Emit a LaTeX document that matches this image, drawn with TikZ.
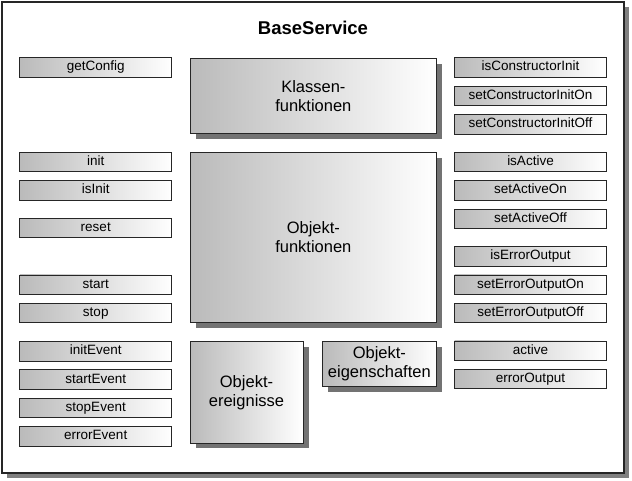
\documentclass[tikz,border=0pt]{standalone}
\usepackage{fontspec}
\setmainfont{Liberation Sans}
\usetikzlibrary{shadows}
\begin{document}
\begin{tikzpicture}[x=1pt,y=1pt,
  outerbox/.style={draw=black!85, line width=1.3pt, fill=white,
    general shadow={fill=black!50, shadow xshift=5pt, shadow yshift=-5pt}},
  sbox/.style={draw=black!85, line width=0.9pt, left color=black!27, right color=white,
    minimum width=152pt, minimum height=19.5pt, inner sep=0pt,
    text height=9.8pt, text depth=2.8pt,
    font=\fontsize{13.5}{15}\selectfont},
  bbox/.style={draw=black!85, line width=0.9pt, left color=black!27, right color=white,
    inner sep=0pt, align=center, font=\fontsize{16.5}{19}\selectfont,
    general shadow={fill=black!55, shadow xshift=5.5pt, shadow yshift=-5.5pt}},
  ttl/.style={font=\bfseries\fontsize{18.5}{22}\selectfont}
]
\useasboundingbox (0,0) rectangle (632,-481);
\node[outerbox, minimum width=622pt, minimum height=471pt, inner sep=0pt] (outer) at (313,-237.5) {};
\node[ttl] (title) at (313,-28) {BaseService};

% big boxes
\node[bbox, minimum width=246.7pt, minimum height=75pt] (klassen) at (313.35,-95.8) {Klassen-\\funktionen};
\node[bbox, minimum width=246.7pt, minimum height=170.4pt] (objfkt) at (313.35,-237.5) {Objekt-\\funktionen};
\node[bbox, minimum width=113pt, minimum height=101.3pt] (objev) at (246.5,-392.3) {Objekt-\\ereignisse};
\node[bbox, minimum width=113.3pt, minimum height=45pt] (objeig) at (379.35,-364.2) {Objekt-\\eigenschaften};

% left column
\node[sbox] (getConfig) at (95.75,-67.3) {getConfig};
\node[sbox] (init) at (95.75,-162) {init};
\node[sbox] (isInit) at (95.75,-190.5) {isInit};
\node[sbox] (reset) at (95.75,-228) {reset};
\node[sbox] (start) at (95.75,-284.7) {start};
\node[sbox] (stop) at (95.75,-313) {stop};
\node[sbox] (initEvent) at (95.75,-351.2) {initEvent};
\node[sbox] (startEvent) at (95.75,-379.5) {startEvent};
\node[sbox] (stopEvent) at (95.75,-407.8) {stopEvent};
\node[sbox] (errorEvent) at (95.75,-436.2) {errorEvent};

% right column
\node[sbox] (isCI) at (530.5,-67.3) {isConstructorInit};
\node[sbox] (setCIOn) at (530.5,-95.8) {setConstructorInitOn};
\node[sbox] (setCIOff) at (530.5,-124.5) {setConstructorInitOff};
\node[sbox] (isActive) at (530.5,-162) {isActive};
\node[sbox] (setActiveOn) at (530.5,-190.5) {setActiveOn};
\node[sbox] (setActiveOff) at (530.5,-219) {setActiveOff};
\node[sbox] (isEO) at (530.5,-256.3) {isErrorOutput};
\node[sbox] (setEOOn) at (530.5,-284.7) {setErrorOutputOn};
\node[sbox] (setEOOff) at (530.5,-313) {setErrorOutputOff};
\node[sbox] (active) at (530.5,-350.7) {active};
\node[sbox] (errorOutput) at (530.5,-379) {errorOutput};
\end{tikzpicture}
\end{document}
